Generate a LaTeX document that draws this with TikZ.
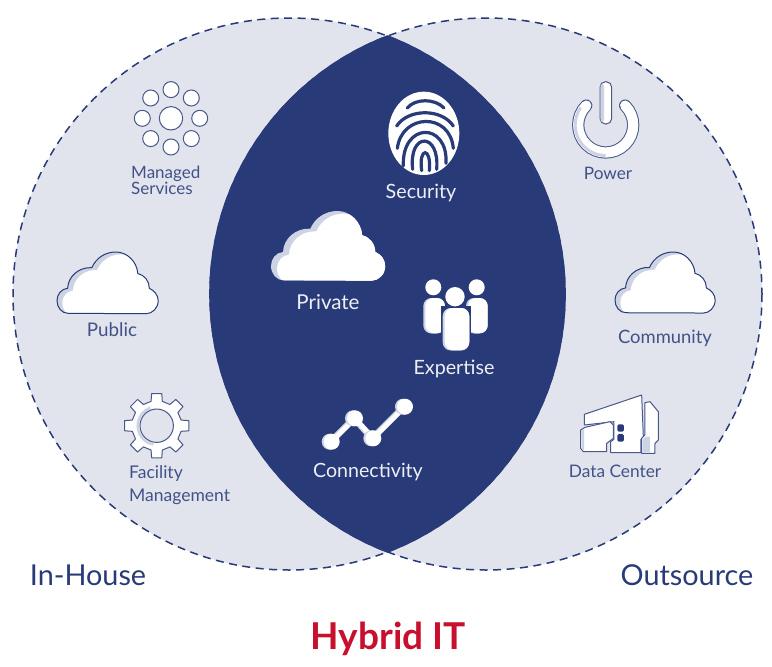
\documentclass[tikz,border=0pt]{standalone}
\usepackage{fontspec}
\setmainfont{Lato}
\usetikzlibrary{calc}
\definecolor{navy}{HTML}{283A78}
\definecolor{paleblue}{HTML}{E1E4ED}
\definecolor{iconshade}{HTML}{CDD3E2}
\definecolor{hybridred}{HTML}{C8102E}
\tikzstyle{venn} = [fill=paleblue]
\tikzstyle{rim} = [draw=navy,line width=1.5pt,dash pattern=on 8pt off 5.5pt]
\tikzstyle{darklabel} = [text=navy!88!white,inner sep=0pt]
\tikzstyle{lightlabel} = [text=white!92!navy,inner sep=0pt]
\tikzstyle{iconline} = [draw=navy!85!white,line width=1pt]
\newcommand{\cloudpath}{(38,208) .. controls (16,208) and (0,188) .. (0,165)
    .. controls (0,143) and (15,125) .. (36,123) .. controls (38,83) and (73,51) .. (118,53)
    .. controls (133,20) and (163,0) .. (200,0) .. controls (238,0) and (271,33) .. (274,73)
    .. controls (296,78) and (313,98) .. (313,123) .. controls (330,131) and (343,146) .. (343,165)
    .. controls (343,190) and (323,209) .. (303,209) -- cycle}
\begin{document}
\begin{tikzpicture}[x=1pt,y=-1pt]
    \useasboundingbox (0,0) rectangle (772,667);
    % First we draw the two circles
    \path[venn] (289,294) circle[radius=276];
    \path[venn] (486,294) circle[radius=276];
    \path[rim] (289,294) circle[radius=276];
    \path[rim] (486,294) circle[radius=276];
    \begin{scope}
        \clip (289,294) circle[radius=276.8];
        \fill[navy] (486,294) circle[radius=276.8];
    \end{scope}

    % Managed services
    \draw[iconline,fill=white] (171,118.3) circle[radius=11.7];
    \foreach \ang in {0,45,...,315}
        \draw[iconline,fill=white] ($(171,118.3)+(\ang:28.7)$) circle[radius=8];

    % Clouds
    \foreach \px/\py/\size/\edge in {57/252/0.295/navy,615/252/0.292/navy,271/211/0.333/none} {
        \begin{scope}[shift={(\px,\py)},scale=\size]
            \fill[iconshade] \cloudpath;
            \begin{scope}
                \clip \cloudpath;
                \begin{scope}[shift={(18,8)}]
                    \fill[white] \cloudpath;
                \end{scope}
                \fill[white] (100,120) rectangle (343,209);
            \end{scope}
            \path[draw=\edge,line width=1pt] \cloudpath;
        \end{scope}
    }

    % Fingerprint
    \begin{scope}[shift={(370,80)},scale=0.3333]
        \fill[white] (161.5,160) ellipse[x radius=106.5,y radius=125];
        \foreach \ridge in {
            {(112,84) .. controls (135,55) and (195,55) .. (222,84)},
            {(80,138) .. controls (115,85) and (215,85) .. (250,138)},
            {(82,205) .. controls (95,100) and (240,95) .. (250,205)},
            {(100,258) .. controls (95,125) and (235,125) .. (228,250)},
            {(128,268) .. controls (115,155) and (210,155) .. (200,268)},
            {(155,272) .. controls (145,200) and (185,200) .. (178,272)}}
            \draw[navy,line width=3.2pt,line cap=round] \ridge;
    \end{scope}

    % Expertise
    \foreach \hx/\hy/\hr/\bl/\bt/\br/\bb in {433.3/287.3/8/423.3/298/445/333.5,476.7/287.3/8/466/298/487.7/333.5,455/296.7/9.7/442.7/308/469.3/350.5} {
        \fill[navy] (\bl-2,\bt-2) rectangle (\br+2,\bb+2);
        \fill[white] (\hx,\hy) circle[radius=\hr];
        \fill[iconshade,rounded corners=8pt] (\bl,\bt) -- (\br,\bt) -- (\br,\bb) -- (\bl,\bb) -- cycle;
        \fill[white,rounded corners=8pt] (\bl+2,\bt) -- (\br,\bt) -- (\br,\bb-0.5) -- (\bl+2,\bb-0.5) -- cycle;
    }

    % Power
    \draw[navy!85!white,line width=12.2pt,line cap=round] (605.7,125)++(-45:27.5) arc[start angle=-45,end angle=225,radius=27.5];
    \draw[white,line width=10.2pt,line cap=round] (605.7,125)++(-45:27.5) arc[start angle=-45,end angle=225,radius=27.5];
    \draw[iconshade,line width=3pt] (605.7,125)++(90:30.5) arc[start angle=90,end angle=215,radius=30.5];
    \draw[iconline,fill=white,rounded corners=5.5pt] (600,81.7) rectangle (611.7,124);
    \fill[iconshade,rounded corners=2pt] (600.6,84) rectangle (604,122);

    % Facility gear
    \begin{scope}[shift={(156.7,425.7)}]
        \draw[iconline,fill=white,line join=round] (-13:25) \foreach \ang in {0,45,...,315} { -- (\ang-13:25) -- (\ang-9:32.5) -- (\ang+9:32.5) -- (\ang+13:25) } -- cycle;
        \draw[iconshade,line width=2.5pt] (0,0)++(100:19) arc[start angle=100,end angle=250,radius=19];
        \draw[iconline,fill=paleblue] (0,0) circle[radius=16.7];
    \end{scope}

    % Data center
    \begin{scope}[shift={(560,380)},scale=0.3333]
        \draw[iconline,fill=white,line join=round] (73,103) -- (245,45) -- (250,170) -- (243,178) -- (243,218) -- (152,218) -- (152,185) -- (162,178) -- (162,125) -- (73,135) -- cycle;
        \draw[iconline,fill=white,line join=round] (255,68) -- (270,65) -- (295,95) -- (295,180) -- (285,190) -- (285,220) -- (245,220) -- (245,175) -- (255,165) -- cycle;
        \fill[iconshade] (248,178) -- (258,170) -- (270,170) -- (270,217) -- (248,217) -- cycle;
        \draw[iconline,fill=white,line join=round] (62,150) -- (75,142) -- (150,125) -- (160,135) -- (160,175) -- (140,190) -- (140,215) -- (70,215) -- (62,205) -- cycle;
        \fill[iconshade] (64,152) -- (72,148) -- (72,212) -- (66,205) -- cycle;
        \fill[navy,rounded corners=1.5pt] (172,133) rectangle (192,155);
        \fill[navy,rounded corners=1.5pt] (172,162) rectangle (192,185);
    \end{scope}

    % Connectivity
    \coordinate (P) at (331.7,441.7);
    \coordinate (Q) at (355,418.3);
    \coordinate (R) at (373.3,438.3);
    \coordinate (S) at (405,406.7);
    \draw[iconshade,line width=5pt] ([xshift=-2pt]P) -- ([xshift=-2pt]Q) -- ([xshift=-2pt]R) -- ([xshift=-2pt]S);
    \draw[white,line width=5pt] (P) -- (Q) -- (R) -- (S);
    \foreach \name in {P,Q,R,S} {
        \fill[iconshade] ([xshift=-2pt]\name) circle[radius=8];
        \fill[white] (\name) circle[radius=8];
    }

    % Labels
    \foreach \pos/\name/\txt/\fs in {{(608,173)/power/Power/17.2},{(112,330)/public/Public/18.8},{(665,338)/community/Community/18.4},{(615,471)/datacenter/Data Center/17.3}}
        \node[darklabel,font=\fontsize{\fs}{\fs}\selectfont] (\name) at \pos {\txt};
    \foreach \pos/\name/\txt/\fs in {{(421,193)/security/Security/19.7},{(328,302)/private/Private/20.5},{(454,369)/expertise/Expertise/19.7},{(368,472)/connectivity/Connectivity/19.6}}
        \node[lightlabel,font=\fontsize{\fs}{\fs}\selectfont] (\name) at \pos {\txt};
    \node[darklabel,anchor=west,align=left,font=\fontsize{17}{16}\selectfont] (managed) at (131,180.5) {Managed\\Services};
    \node[darklabel,anchor=west,align=left,font=\fontsize{17.5}{16}\selectfont] (facility) at (129,485) {Facility\\[6.5pt]Management};
    \node[text=navy,font=\fontsize{28.8}{29}\selectfont,inner sep=0pt] (inhouse) at (88,575) {In-House};
    \node[text=navy,font=\fontsize{28.8}{29}\selectfont,inner sep=0pt] (outsource) at (687,575) {Outsource};
    \node[text=hybridred,font=\fontsize{37}{37}\selectfont\bfseries,inner sep=0pt] (hybrid) at (388,639) {Hybrid IT};
\end{tikzpicture}
\end{document}
